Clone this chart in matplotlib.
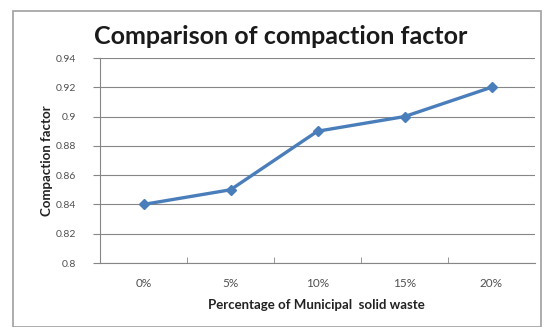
import matplotlib
matplotlib.use("Agg")
import matplotlib.pyplot as plt
from matplotlib.patches import Rectangle

categories = ["0%", "5%", "10%", "15%", "20%"]
values = [0.84, 0.85, 0.89, 0.90, 0.92]
yticks = [0.8, 0.82, 0.84, 0.86, 0.88, 0.9, 0.92, 0.94]
ylabels = ["0.8", "0.82", "0.84", "0.86", "0.88", "0.9", "0.92", "0.94"]

plt.rcParams["font.family"] = ["Lato", "DejaVu Sans"]

W, H = 544, 327
fig = plt.figure(figsize=(W / 100, H / 100), dpi=100)
fig.patch.set_facecolor("white")

# outer chart frame
fig.patches.append(Rectangle((13 / W, 0), 528 / W, 1 - 11 / H, transform=fig.transFigure,
                             fill=False, edgecolor="#a0a0a0", linewidth=1.2))

ax = fig.add_axes([100 / W, 1 - 263 / H, 435 / W, 205 / H])
x = list(range(len(categories)))
ax.plot(x, values, color="#4a7ebb", linewidth=2.4, marker="D", markersize=5)

ax.set_xlim(-0.5, len(categories) - 0.5)
ax.set_ylim(0.8, 0.94)
ax.set_yticks(yticks)
ax.set_yticklabels(ylabels)
ax.set_xticks(x)
ax.set_xticklabels(categories)
ax.set_xticks([i + 0.5 for i in x[:-1]], minor=True)
ax.tick_params(axis="x", which="major", length=0, pad=11, labelsize=8.5, labelcolor="#505050")
ax.tick_params(axis="x", which="minor", length=4, direction="in", color="#868686")
ax.tick_params(axis="y", length=5, direction="out", color="#868686", labelsize=7.5,
               labelcolor="#505050", pad=12)
ax.grid(axis="y", color="#868686", linewidth=0.8)
ax.set_axisbelow(True)
for s in ["top", "right"]:
    ax.spines[s].set_visible(False)
for s in ["left", "bottom"]:
    ax.spines[s].set_color("#868686")

ax.set_ylabel("Compaction factor", fontsize=9.5, fontweight="bold", color="#222222")
ax.yaxis.set_label_coords((47 - 100) / 435, 0.5)
ax.set_xlabel("Percentage of Municipal  solid waste", fontsize=9.5, fontweight="bold",
              color="#222222")
ax.xaxis.set_label_coords((316 - 100) / 435, (263 - 305) / 205)
ax.xaxis.label.set_va("center")
ax.yaxis.label.set_va("center")
fig.text(281 / W, 1 - 37 / H, "Comparison of compaction factor", ha="center", va="center",
         fontsize=18, fontweight="bold", color="#1a1a1a")

fig.savefig("out.png", dpi=100)
